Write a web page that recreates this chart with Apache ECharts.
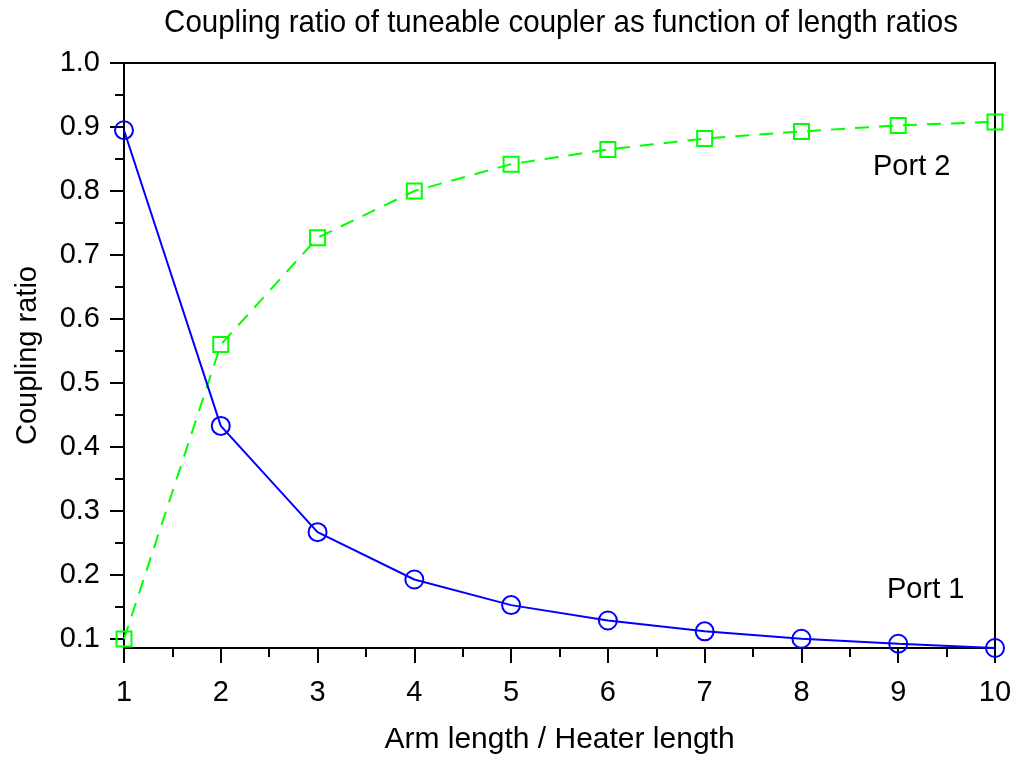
<!DOCTYPE html>
<html>
<head>
<meta charset="utf-8">
<script src="https://cdn.jsdelivr.net/npm/echarts@6/dist/echarts.min.js"></script>
<style>
  html, body { margin: 0; padding: 0; background: #fff; }
  #chart { width: 1020px; height: 761px; }
</style>
</head>
<body>
<div id="chart"></div>
<script>
// Length ratio (arm / heater) on the x axis
const lengthRatios = [1, 2, 3, 4, 5, 6, 7, 8, 9, 10];
// Coupling ratio at each output port
const port1 = [0.895, 0.433, 0.267, 0.193, 0.153, 0.129, 0.112, 0.1005, 0.0927, 0.086];
const port2 = [0.100, 0.560, 0.727, 0.800, 0.842, 0.865, 0.882, 0.893, 0.9025, 0.908];
// Y axis tick values
const yMajorTicks = [0.1, 0.2, 0.3, 0.4, 0.5, 0.6, 0.7, 0.8, 0.9, 1.0];
const yMinorTicks = [0.15, 0.25, 0.35, 0.45, 0.55, 0.65, 0.75, 0.85, 0.95];
const yMin = 0.086;
const yMax = 1.0;

const FONT = '"Liberation Sans", Arial, sans-serif';

const chart = echarts.init(document.getElementById('chart'), null, { renderer: 'canvas' });

const pairs = (ys) => lengthRatios.map((x, i) => [x, ys[i]]);

chart.setOption({
  backgroundColor: '#ffffff',
  animation: false,
  grid: {
    left: 124, right: 25, top: 63, bottom: 113,
    show: true, borderColor: '#000', borderWidth: 2, backgroundColor: 'transparent'
  },
  xAxis: {
    type: 'value',
    min: 1, max: 10, interval: 1,
    name: 'Arm length / Heater length',
    nameLocation: 'middle',
    nameGap: 77,
    nameTextStyle: { fontFamily: FONT, fontSize: 30, color: '#000' },
    axisLine: { show: true, lineStyle: { color: '#000', width: 2 } },
    axisTick: { show: true, inside: false, length: 15, lineStyle: { color: '#000', width: 2 } },
    minorTick: { show: true, splitNumber: 2, length: 9, lineStyle: { color: '#000', width: 2 } },
    axisLabel: { margin: 30, fontFamily: FONT, fontSize: 29, color: '#000' },
    splitLine: { show: false }
  },
  yAxis: [
    {
      type: 'value',
      min: yMin, max: yMax,
      name: 'Coupling ratio',
      nameLocation: 'middle',
      nameGap: 82,
      nameTextStyle: { fontFamily: FONT, fontSize: 29, color: '#000' },
      axisLine: { show: true, lineStyle: { color: '#000', width: 2 } },
      axisTick: { show: true, inside: false, length: 14, customValues: yMajorTicks,
                  lineStyle: { color: '#000', width: 2 } },
      axisLabel: { margin: 24, fontFamily: FONT, fontSize: 29, color: '#000',
                   customValues: yMajorTicks, formatter: (v) => v.toFixed(1) },
      splitLine: { show: false }
    },
    {
      type: 'value',
      position: 'left',
      min: yMin, max: yMax,
      axisLine: { show: false },
      axisTick: { show: true, inside: false, length: 9, customValues: yMinorTicks,
                  lineStyle: { color: '#000', width: 2 } },
      axisLabel: { show: false },
      splitLine: { show: false }
    }
  ],
  series: [
    {
      name: 'Port 1',
      type: 'line',
      data: pairs(port1),
      symbol: 'circle',
      symbolSize: 18,
      showAllSymbol: true,
      lineStyle: { color: '#0000ff', width: 2, type: 'solid' },
      itemStyle: { color: 'rgba(0,0,0,0)', borderColor: '#0000ff', borderWidth: 2 },
      z: 3
    },
    {
      name: 'Port 2',
      type: 'line',
      data: pairs(port2),
      symbol: 'rect',
      symbolSize: 15,
      showAllSymbol: true,
      lineStyle: { color: '#00ff00', width: 2, type: [14, 10] },
      itemStyle: { color: 'rgba(0,0,0,0)', borderColor: '#00ff00', borderWidth: 2 },
      z: 2
    }
  ],
  graphic: [
    // Title, set in a slightly condensed face
    { type: 'text', x: 561, y: 23, scaleX: 0.922,
      style: { text: 'Coupling ratio of tuneable coupler as function of length ratios',
               font: '32px ' + FONT, fill: '#000', align: 'center', verticalAlign: 'middle' } },
    { type: 'text', left: 873, top: 152,
      style: { text: 'Port 2', font: '29px ' + FONT, fill: '#000' } },
    { type: 'text', left: 887, top: 575,
      style: { text: 'Port 1', font: '29px ' + FONT, fill: '#000' } }
  ]
});
</script>
</body>
</html>
